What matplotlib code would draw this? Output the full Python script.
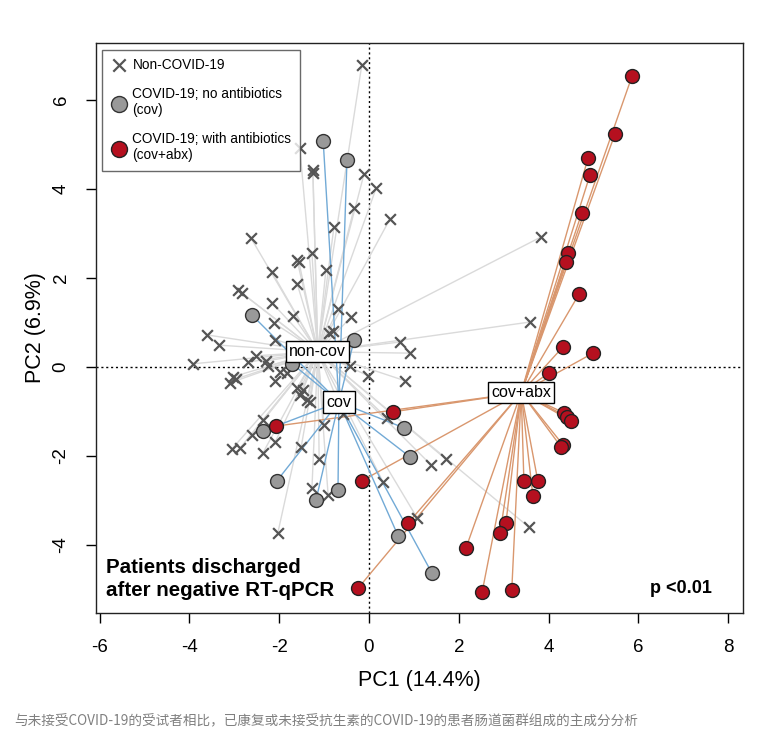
import matplotlib
matplotlib.use("Agg")
import matplotlib.pyplot as plt
import numpy as np

plt.rcParams['font.family'] = ['Liberation Sans', 'DejaVu Sans']
plt.rcParams['axes.unicode_minus'] = False

# Non-COVID-19 (x marks)
non_x = [-0.16, -1.54, -1.25, -1.25, -0.11, 0.16, -0.33, 0.47, -0.78, -2.63,
         3.83, -2.16, -1.60, -1.56, -1.27, -0.96, -1.60, -2.92, -2.83, -2.16,
         -2.12, -1.69, -0.69, -0.40, -3.61, -3.34, -2.09, -0.89, -0.80, -3.92,
         -2.69, -2.52, -2.29, -2.25, -1.98, -1.83, -2.09, -3.03, -3.10, -2.96,
         -1.60, -1.47, -1.54, -1.38, -1.31, -0.02, -0.42, -2.36, -2.61, -2.09,
         -3.05, -2.87, -2.36, -1.51, -1.00, -1.11, -1.27, -0.91, -2.03, 0.69,
         0.91, 0.80, 0.40, 1.38, 1.71, 0.31, 1.07, 3.59, 3.56, -0.58]
non_y = [6.79, 4.92, 4.43, 4.36, 4.34, 4.02, 3.57, 3.33, 3.15, 2.90,
         2.92, 2.13, 2.40, 2.36, 2.56, 2.18, 1.87, 1.73, 1.66, 1.44,
         0.99, 1.15, 1.30, 1.12, 0.72, 0.49, 0.61, 0.76, 0.81, 0.07,
         0.11, 0.25, 0.13, 0.02, -0.11, -0.13, -0.31, -0.22, -0.36, -0.27,
         -0.47, -0.52, -0.63, -0.74, -0.79, -0.20, 0.02, -1.19, -1.53, -1.69,
         -1.84, -1.82, -1.93, -1.80, -1.30, -2.07, -2.72, -2.88, -3.73, 0.56,
         0.31, -0.31, -1.15, -2.20, -2.07, -2.58, -3.39, 1.01, -3.60, -1.06]

# COVID-19, no antibiotics (grey circles)
cov_x = [-1.02, -0.49, -2.61, -0.33, -1.71, -2.36, -2.05, -1.18, -0.69, 0.78,
         0.91, 0.65, 1.40]
cov_y = [5.08, 4.65, 1.17, 0.61, 0.07, -1.44, -2.56, -2.99, -2.76, -1.37,
         -2.02, -3.80, -4.63]

# COVID-19, with antibiotics (red circles)
abx_x = [5.86, 5.48, 4.88, 4.92, 4.74, 4.43, 4.39, 4.68, 4.32, 4.99,
         4.01, 4.34, 4.41, 4.50, 4.32, 4.28, 3.45, 3.76, 3.65, 3.05,
         2.92, 2.16, 2.52, 3.18, 0.53, -2.07, -0.16, 0.87, -0.24]
abx_y = [6.54, 5.24, 4.70, 4.31, 3.46, 2.56, 2.36, 1.64, 0.45, 0.31,
         -0.13, -1.03, -1.12, -1.21, -1.75, -1.80, -2.56, -2.56, -2.90, -3.51,
         -3.73, -4.07, -5.06, -5.01, -1.01, -1.33, -2.56, -3.51, -4.97]

# group centroids
centroid_names = ['non-cov', 'cov', 'cov+abx']
centroid_x = [-1.14, -0.67, 3.39]
centroid_y = [0.34, -0.79, -0.58]

x_ticks = [-6, -4, -2, 0, 2, 4, 6, 8]
y_ticks = [-4, -2, 0, 2, 4, 6]

fig = plt.figure(figsize=(7.66, 7.51), dpi=100)
ax = fig.add_axes([0.1253, 0.1838, 0.8447, 0.7589])

# spider lines
for x, y in zip(non_x, non_y):
    ax.plot([centroid_x[0], x], [centroid_y[0], y], color='#dadada', lw=1, zorder=1)
for x, y in zip(cov_x, cov_y):
    ax.plot([centroid_x[1], x], [centroid_y[1], y], color='#72aad6', lw=1, zorder=1.2)
for x, y in zip(abx_x, abx_y):
    ax.plot([centroid_x[2], x], [centroid_y[2], y], color='#d9976e', lw=1, zorder=1.1)

ax.axvline(0, color='black', lw=1, linestyle=(0, (1.5, 2)), zorder=0.5)
ax.axhline(0, color='black', lw=1, linestyle=(0, (1.5, 2)), zorder=0.5)

ax.scatter(non_x, non_y, marker='x', s=60, linewidths=1.6, color='#555555', zorder=3,
           label='Non-COVID-19')
ax.scatter(cov_x, cov_y, marker='o', s=100, facecolor='#999999', edgecolor='#333333',
           linewidths=1, zorder=4, label='COVID-19; no antibiotics\n(cov)')
ax.scatter(abx_x, abx_y, marker='o', s=100, facecolor='#b5101f', edgecolor='#222222',
           linewidths=1, zorder=5, label='COVID-19; with antibiotics\n(cov+abx)')

for name, x, y in zip(centroid_names, centroid_x, centroid_y):
    ax.text(x, y, name, fontsize=11.5, ha='center', va='center', zorder=6,
            bbox=dict(boxstyle='square,pad=0.2', facecolor='white', edgecolor='black', lw=1))

ax.set_xlim(-6.08, 8.33)
ax.set_ylim(-5.53, 7.28)
ax.set_xticks(x_ticks)
ax.set_yticks(y_ticks)
ax.tick_params(axis='both', direction='out', length=7, width=1, labelsize=13.5)
ax.tick_params(axis='x', pad=12)
ax.tick_params(axis='y', pad=12)
for lab in ax.get_yticklabels():
    lab.set_rotation(90)
    lab.set_va('center')
for spine in ax.spines.values():
    spine.set_color('#222222')
    spine.set_linewidth(1)

ax.set_xlabel('PC1 (14.4%)', fontsize=15.5, labelpad=10)
ax.set_ylabel('PC2 (6.9%)', fontsize=15.5, labelpad=5)

leg = ax.legend(loc='upper left', bbox_to_anchor=(0.009, 0.988), borderaxespad=0,
                fontsize=9.8, frameon=True, fancybox=False, handletextpad=0.35,
                borderpad=0.6, labelspacing=1.1, scatterpoints=1, handlelength=1.3,
                markerscale=1.15)
leg.get_frame().set_edgecolor('#444444')
leg.get_frame().set_linewidth(1)

ax.text(0.016, 0.022, 'Patients discharged\nafter negative RT-qPCR', transform=ax.transAxes,
        fontsize=14.8, fontweight='bold', ha='left', va='bottom', linespacing=1.3)
ax.text(0.952, 0.028, 'p <0.01', transform=ax.transAxes,
        fontsize=13, fontweight='bold', ha='right', va='bottom')

fig.text(14 / 766, 1 - 721 / 751, '与未接受COVID-19的受试者相比，已康复或未接受抗生素的COVID-19的患者肠道菌群组成的主成分分析',
         fontsize=9.8, color='#808080', ha='left', va='center',
         family=['Noto Sans CJK SC', 'DejaVu Sans'])

fig.savefig('out.png', dpi=100)
